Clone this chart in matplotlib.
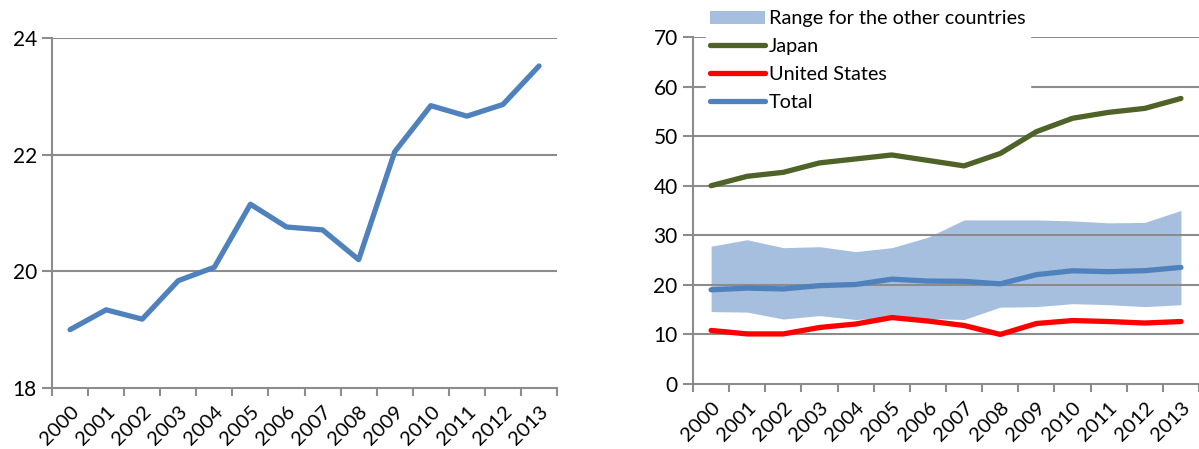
import numpy as np
import matplotlib
matplotlib.use('Agg')
import matplotlib.pyplot as plt
from matplotlib.patches import Patch
from matplotlib.lines import Line2D

plt.rcParams['font.family'] = ['Lato', 'DejaVu Sans']

years = [str(y) for y in range(2000, 2014)]
total = [19.0, 19.34, 19.18, 19.84, 20.07, 21.15, 20.76, 20.71, 20.2, 22.05, 22.84, 22.66, 22.86, 23.52]
japan = [40.0, 41.9, 42.7, 44.6, 45.4, 46.2, 45.1, 44.0, 46.5, 50.9, 53.6, 54.8, 55.6, 57.6]
usa = [10.8, 10.1, 10.1, 11.4, 12.1, 13.4, 12.7, 11.8, 10.0, 12.2, 12.8, 12.6, 12.3, 12.6]
band_hi = [27.8, 29.1, 27.5, 27.7, 26.7, 27.5, 29.6, 33.1, 33.1, 33.1, 32.9, 32.5, 32.6, 35.0]
band_lo = [14.6, 14.5, 13.1, 13.8, 13.0, 13.5, 13.2, 13.0, 15.5, 15.6, 16.2, 16.0, 15.6, 16.0]

blue = '#4F81BD'
green = '#4F6228'
red = '#FF0000'
bandc = '#A7BFDE'
grid = '#8C8C8C'
lw = 3.8

fig = plt.figure(figsize=(11.99, 4.49), dpi=100)
ax1 = fig.add_axes([0.0434, 0.1359, 0.4212, 0.7795])
ax2 = fig.add_axes([0.578, 0.1448, 0.422, 0.7728])

x = np.arange(len(years))


def style(ax, ymin, ymax, step):
    ax.set_xlim(-0.5, len(years) - 0.5)
    ax.set_ylim(ymin, ymax)
    ax.set_yticks(np.arange(ymin, ymax + step / 2, step))
    ax.set_xticks(x)
    ax.set_xticklabels(years, rotation=45, ha='right', rotation_mode='anchor')
    ax.set_xticks(np.arange(-0.5, len(years), 1), minor=True)
    ax.tick_params(axis='x', which='major', length=0, pad=11, labelsize=14.5)
    ax.tick_params(axis='x', which='minor', length=6, color=grid, width=1.5)
    ax.tick_params(axis='y', length=7, color=grid, width=1.5, labelsize=15, pad=4)
    for s in ['top', 'right']:
        ax.spines[s].set_visible(False)
    for s in ['left', 'bottom']:
        ax.spines[s].set_color(grid)
        ax.spines[s].set_linewidth(1.5)
    for yv in np.arange(ymin + step, ymax + step / 2, step):
        ax.axhline(yv, color=grid, lw=1.5, zorder=2)


style(ax1, 18, 24, 2)
ax1.plot(x, total, color=blue, lw=lw, zorder=3, solid_capstyle='round')

style(ax2, 0, 70, 10)
ax2.fill_between(x, band_lo, band_hi, color=bandc, lw=0, zorder=1)
ax2.plot(x, japan, color=green, lw=lw, zorder=3, solid_capstyle='round')
ax2.plot(x, usa, color=red, lw=lw, zorder=3, solid_capstyle='round')
ax2.plot(x, total, color=blue, lw=lw, zorder=3, solid_capstyle='round')

handles = [Patch(color=bandc, lw=0),
           Line2D([], [], color=green, lw=lw, solid_capstyle='round'),
           Line2D([], [], color=red, lw=lw, solid_capstyle='round'),
           Line2D([], [], color=blue, lw=lw, solid_capstyle='round')]
labels = ['Range for the other countries', 'Japan', 'United States', 'Total']
leg = ax2.legend(handles, labels, loc='upper left', bbox_to_anchor=(0.025, 1.088),
                 frameon=True, fancybox=False, edgecolor='white', framealpha=1,
                 fontsize=14.3, handlelength=2.8, handletextpad=0.2,
                 labelspacing=0.55, borderpad=0.2, borderaxespad=0)
leg.set_zorder(5)

fig.savefig('out.png', dpi=100)
